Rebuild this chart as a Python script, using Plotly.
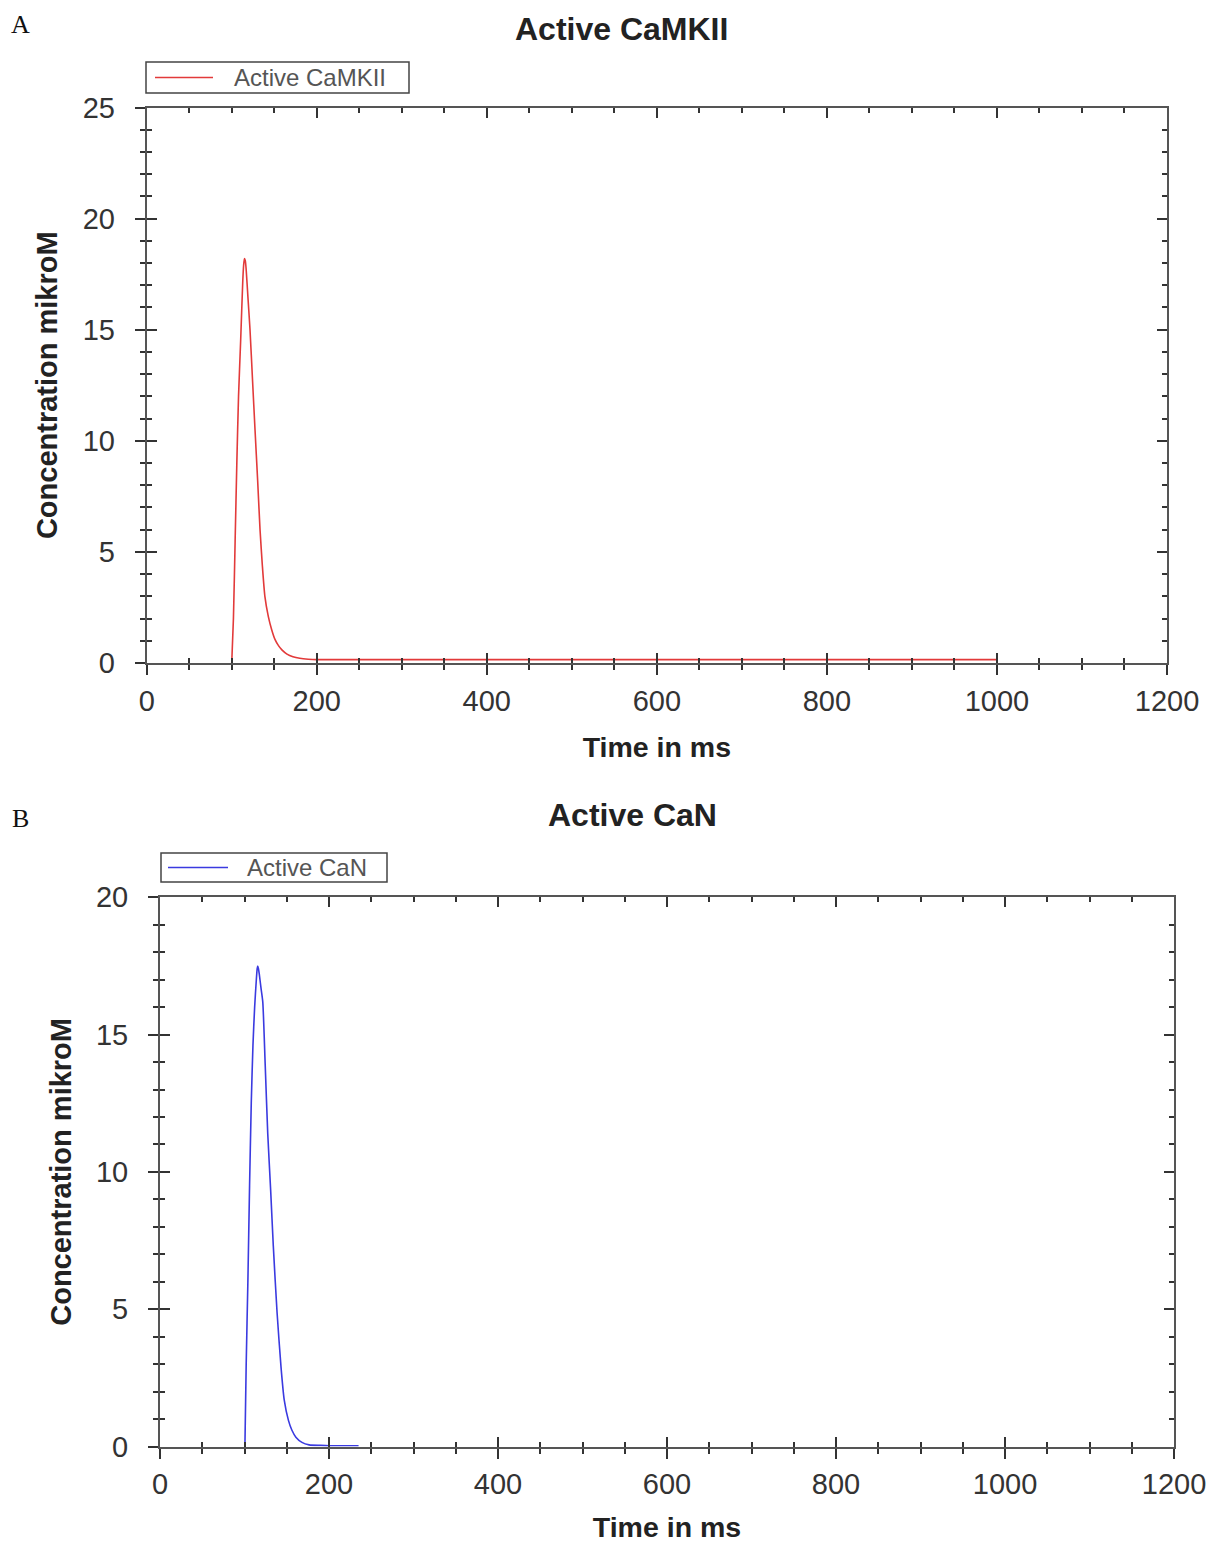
import plotly.graph_objects as go

# ---------------- data ----------------
camkii_time = [100, 102, 104, 106, 108, 110.5, 113, 114, 115, 116, 117, 119, 121.5, 124.5, 127.4,
               130.5, 133.3, 136, 139, 143, 147, 151, 155, 159, 165, 172, 180, 190, 200, 1000]
camkii_conc = [0, 2.0, 5.5, 9.0, 12.0, 14.5, 17.2, 17.9, 18.2, 18.1, 17.7, 16.5, 15.0, 12.7, 10.5,
               8.2, 6.0, 4.4, 3.0, 2.1, 1.5, 1.05, 0.78, 0.59, 0.40, 0.28, 0.21, 0.17, 0.15, 0.15]

can_time = [100.5, 102, 104, 106, 108, 110, 112, 114, 115, 115.6, 116.5, 117.5, 119.5, 121.6,
            124.5, 127.5, 131, 134.1, 138.5, 143.2, 147, 152, 156, 160.8, 168, 176.5, 190, 200, 235]
can_conc = [0, 3.0, 6.0, 9.5, 12.5, 14.6, 16.0, 17.0, 17.4, 17.5, 17.4, 17.2, 16.7, 16.2,
            13.9, 11.4, 9.3, 7.3, 4.9, 2.9, 1.7, 0.95, 0.6, 0.34, 0.15, 0.06, 0.04, 0.03, 0.03]

titles = ["Active CaMKII", "Active CaN"]
series_names = ["Active CaMKII", "Active CaN"]
panel_labels = ["A", "B"]
x_title = "Time in ms"
y_title = "Concentration mikroM"
x_range = [0, 1200]
y_ranges = [[0, 25], [0, 20]]

# ---------------- layout constants ----------------
OFF = 8                      # page body margin of the html page
W, H = 1218 - OFF, 1543 - OFF
FONT = "Liberation Sans, Arial, sans-serif"
AXC = "#555555"
TKC = "#333333"
TXT = "#222222"
colors = ["#e23a3a", "#3a3ae0"]

def px(x):
    return (x - OFF) / W

def py(y):
    return 1 - (y - OFF) / H

# plot-area boxes in page pixels: (left, right, top, bottom)
boxes = [(146.7, 1167.0, 107.5, 663.0), (160.0, 1174.0, 897.3, 1446.5)]

fig = go.Figure()
fig.add_trace(go.Scatter(x=camkii_time, y=camkii_conc, mode="lines", name=series_names[0],
                         line=dict(color=colors[0], width=1.6, shape="spline", smoothing=0.6),
                         xaxis="x", yaxis="y", showlegend=False))
fig.add_trace(go.Scatter(x=can_time, y=can_conc, mode="lines", name=series_names[1],
                         line=dict(color=colors[1], width=1.6, shape="spline", smoothing=0.6),
                         xaxis="x2", yaxis="y2", showlegend=False))
# empty traces so the inside-tick overlay axes are drawn
for k in (3, 4):
    fig.add_trace(go.Scatter(x=[], y=[], xaxis=f"x{k}", yaxis=f"y{k}", showlegend=False,
                             hoverinfo="skip"))

tickfont = dict(family=FONT, size=29, color="#333333")
xtitlefont = dict(family=FONT, size=28.5, color=TXT, weight="bold")
ytitlefont = dict(family=FONT, size=29, color=TXT, weight="bold")

layout = dict(
    width=W, height=H, margin=dict(l=0, r=0, t=0, b=0, pad=0, autoexpand=False),
    paper_bgcolor="white", plot_bgcolor="white", showlegend=False,
)

for i in range(2):
    l, r, t, b = boxes[i]
    xd = [px(l), px(r)]
    yd = [py(b), py(t)]
    xn = "xaxis" if i == 0 else "xaxis2"
    yn = "yaxis" if i == 0 else "yaxis2"
    xa = "x" if i == 0 else "x2"
    ya = "y" if i == 0 else "y2"
    common_x = dict(range=x_range, domain=xd, showgrid=False, zeroline=False, automargin=False,
                    showline=True, linecolor=AXC, linewidth=2, dtick=200, tick0=0)
    common_y = dict(range=y_ranges[i], domain=yd, showgrid=False, zeroline=False, automargin=False,
                    showline=True, linecolor=AXC, linewidth=2, dtick=5, tick0=0)
    layout[xn] = dict(common_x, anchor=ya, mirror=True, ticks="outside", ticklen=10,
                      tickwidth=1.5, tickcolor=TKC, tickfont=tickfont,
                      ticklabelstandoff=1,
                      minor=dict(dtick=50, ticks="outside", ticklen=5, tickwidth=1.5,
                                 tickcolor=TKC, showgrid=False),
                      title=dict(text=x_title, font=xtitlefont, standoff=21))
    layout[yn] = dict(common_y, anchor=xa, mirror=True, ticks="outside", ticklen=10,
                      tickwidth=1.5, tickcolor=TKC, tickfont=tickfont,
                      ticklabelstandoff=14,
                      minor=dict(dtick=1, ticks="outside", ticklen=5, tickwidth=1.5,
                                 tickcolor=TKC, showgrid=False),
                      title=dict(text=y_title, font=ytitlefont, standoff=16))
    # overlay axes for inside (crossing) ticks, mirrored on all sides
    k = 3 + i
    layout[f"xaxis{k}"] = dict(common_x, overlaying=xa, anchor=f"y{k}", mirror="ticks",
                               ticks="inside", ticklen=10, tickwidth=1.5, tickcolor=TKC,
                               showticklabels=False,
                               minor=dict(dtick=50, ticks="inside", ticklen=5, tickwidth=1.5,
                                          tickcolor=TKC, showgrid=False))
    layout[f"yaxis{k}"] = dict(common_y, overlaying=ya, anchor=f"x{k}", mirror="ticks",
                               ticks="inside", ticklen=10, tickwidth=1.5, tickcolor=TKC,
                               showticklabels=False,
                               minor=dict(dtick=1, ticks="inside", ticklen=5, tickwidth=1.5,
                                          tickcolor=TKC, showgrid=False))

fig.update_layout(**layout)

# titles (top-anchored so nothing is clipped) and panel labels
title_top = [(621, 8.5), (633, 795)]
label_pos = [(20, 25), (20, 818)]
for i in range(2):
    fig.add_annotation(x=px(title_top[i][0]), y=py(title_top[i][1]), xref="paper", yref="paper",
                       text=f"<b>{titles[i]}</b>", showarrow=False, xanchor="center",
                       yanchor="top", font=dict(family=FONT, size=32, color=TXT))
    fig.add_annotation(x=px(label_pos[i][0]), y=py(label_pos[i][1]), xref="paper", yref="paper",
                       text=panel_labels[i], showarrow=False, xanchor="center",
                       yanchor="middle", font=dict(family="Liberation Serif, Times New Roman, serif",
                                                   size=26, color="#111111"))

# legend boxes (drawn like the original: box, line sample, label)
legend_boxes = [(146, 409, 62, 93, 155, 213, 232), (161, 387, 853, 882, 168, 228, 245)]
for i in range(2):
    x0, x1, y0, y1, lx0, lx1, tx = legend_boxes[i]
    fig.add_shape(type="rect", xref="paper", yref="paper", x0=px(x0), x1=px(x1),
                  y0=py(y1), y1=py(y0), line=dict(color="#444444", width=1.5),
                  fillcolor="white")
    ym = (y0 + y1) / 2
    fig.add_shape(type="line", xref="paper", yref="paper", x0=px(lx0), x1=px(lx1),
                  y0=py(ym), y1=py(ym), line=dict(color=colors[i], width=1.6))
    fig.add_annotation(x=px(tx), y=py(ym), xref="paper", yref="paper", text=series_names[i],
                       showarrow=False, xanchor="left", yanchor="middle",
                       font=dict(family=FONT, size=24, color="#555555"))

fig.write_html("out.html")
